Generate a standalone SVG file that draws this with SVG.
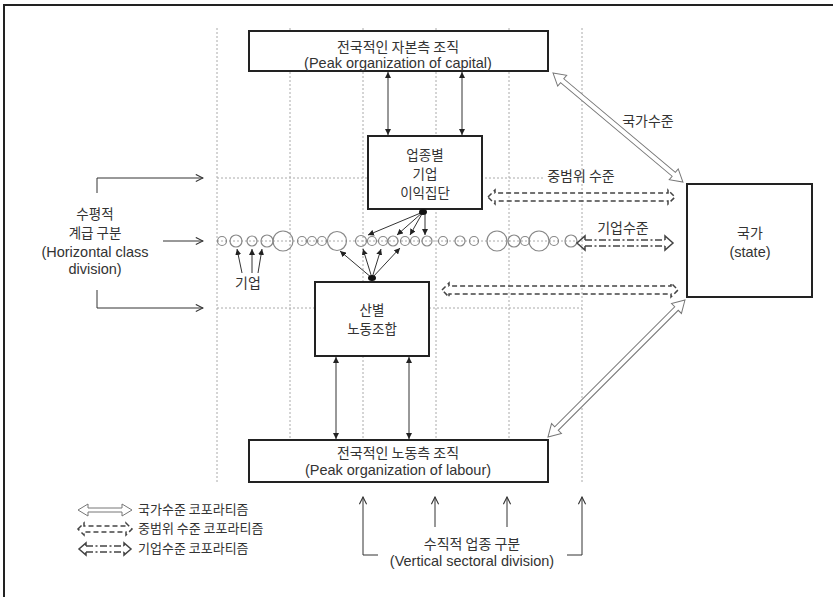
<svg xmlns="http://www.w3.org/2000/svg" width="833" height="597" viewBox="0 0 833 597">
<defs>
<style>
.box{fill:#fff;stroke:#222;stroke-width:2}
.grid{stroke:#aaa;stroke-width:1;stroke-dasharray:2,2;fill:none}
.t{font-family:"Liberation Sans","Noto Sans CJK KR",sans-serif;fill:#333;text-anchor:middle;font-size:14.5px}
.k{font-family:"Noto Sans CJK KR","Liberation Sans",sans-serif;font-size:14px}
.s{font-size:13.5px}
.lg{font-family:"Noto Sans CJK KR","Liberation Sans",sans-serif;font-size:13px;fill:#333;text-anchor:start}
.circ{fill:none;stroke:#888;stroke-width:1.2}
.ln{stroke:#333;stroke-width:1;fill:none}
.hol{fill:#fff;stroke:#777;stroke-width:1}
.dsh{fill:none;stroke:#444;stroke-width:1.5;stroke-dasharray:5,3}
.dd{fill:none;stroke:#444;stroke-width:1.5;stroke-dasharray:7,2.5,2,2.5}
.hd{fill:none;stroke:#444;stroke-width:1.5}
</style>
<marker id="ah" viewBox="0 0 8 8" refX="8" refY="4" markerWidth="6" markerHeight="6" orient="auto-start-reverse"><path d="M0,0 L8,4 L0,8 z" fill="#222"/></marker>
<marker id="oa" viewBox="0 0 10 10" refX="9" refY="5" markerWidth="9" markerHeight="9" orient="auto"><path d="M1,1 L9,5 L1,9" fill="none" stroke="#333" stroke-width="1.2"/></marker>
</defs>
<rect width="833" height="597" fill="#fff"/>
<path d="M3,5 H833 M4,4 V597" stroke="#222" stroke-width="2" fill="none"/>

<g id="grid">
<path class="grid" d="M217,28 V482 M290,28 V482 M363,28 V482 M436,28 V482 M509,28 V482 M582,28 V484"/>
<path class="grid" d="M217,178 H545 M217,241 H577 M217,308 H582"/>
</g>

<g id="firms">
<g class="circ">
<circle cx="222" cy="241" r="4.5"/><circle cx="236" cy="241" r="6"/><circle cx="252" cy="241" r="5"/><circle cx="267" cy="241" r="6"/><circle cx="283" cy="241" r="10"/><circle cx="302" cy="241" r="4.5"/><circle cx="312" cy="241" r="4.5"/><circle cx="322" cy="241" r="4.5"/><circle cx="337" cy="241" r="9.5"/><circle cx="361" cy="241" r="5.5"/><circle cx="372" cy="241" r="4.5"/><circle cx="383" cy="241" r="4.5"/><circle cx="393" cy="241" r="5"/><circle cx="405" cy="241" r="4.5"/><circle cx="415" cy="241" r="4.5"/><circle cx="427" cy="241" r="5"/><circle cx="443" cy="241" r="4.5"/><circle cx="460" cy="241" r="5"/><circle cx="474" cy="241" r="4.5"/><circle cx="497" cy="241" r="10"/><circle cx="514" cy="241" r="6"/><circle cx="525" cy="241" r="4.5"/><circle cx="539" cy="241" r="10"/><circle cx="554" cy="241" r="4.5"/><circle cx="571" cy="241" r="6"/>
</g>
<text class="t k" x="248" y="288">기업</text>
</g>

<g id="capital">
<rect class="box" x="249" y="31" width="299" height="40"/>
<text class="t k" x="398" y="52">전국적인 자본측 조직</text>
<text class="t" x="398" y="68">(Peak organization of capital)</text>
</g>

<g id="business">
<rect class="box" x="368" y="136" width="114" height="73"/>
<text class="t k s" x="425" y="160">업종별</text>
<text class="t k s" x="425" y="179">기업</text>
<text class="t k s" x="425" y="198">이익집단</text>
</g>

<g id="union">
<rect class="box" x="315" y="282" width="114" height="74"/>
<text class="t k s" x="372" y="315">산별</text>
<text class="t k s" x="372" y="334">노동조합</text>
</g>

<g id="labour">
<rect class="box" x="249" y="440" width="299" height="42"/>
<text class="t k" x="398" y="458">전국적인 노동측 조직</text>
<text class="t" x="398" y="475">(Peak organization of labour)</text>
</g>

<g id="state">
<rect class="box" x="687" y="184" width="125" height="113"/>
<text class="t k" x="750" y="238">국가</text>
<text class="t" x="750" y="257">(state)</text>
</g>

<g id="horizontal">
<text class="t k s" x="95" y="219">수평적</text>
<text class="t k s" x="95" y="238">계급 구분</text>
<text class="t" x="95" y="257">(Horizontal class</text>
<text class="t" x="95" y="274">division)</text>
</g>

<g id="vertical">
<text class="t k" x="472" y="549">수직적 업종 구분</text>
<text class="t" x="472" y="566">(Vertical sectoral division)</text>
</g>

<g id="connectors">
<g class="ln" marker-end="url(#oa)">
<path d="M97,193 V178 H203"/>
<path d="M163,241 H203"/>
<path d="M97,290 V308 H203"/>
<path d="M378,555 H363 V497"/>
<path d="M435,527 V497"/>
<path d="M507,527 V497"/>
<path d="M567,555 H582 V497"/>
</g>
<g class="ln" marker-start="url(#ah)" marker-end="url(#ah)">
<path d="M388,72 V135"/>
<path d="M462,72 V135"/>
<path d="M336,357 V439"/>
<path d="M409,357 V439"/>
</g>
<g class="ln" marker-end="url(#ah)">
<path d="M423,212 L368,235"/>
<path d="M423,212 L397,235"/>
<path d="M423,212 L410,235"/>
<path d="M425,213 L425,235"/>
<path d="M372,278 L340,251"/>
<path d="M372,278 L363,249"/>
<path d="M372,278 L381,249"/>
<path d="M372,278 L400,248"/>
<path d="M242,273 L237,249"/>
<path d="M252,273 L252,249"/>
<path d="M258,273 L262,249"/>
</g>
<ellipse cx="423" cy="212" rx="4" ry="3" fill="#111"/>
<ellipse cx="372" cy="278" rx="4" ry="3" fill="#111"/>

<g transform="translate(553,73) rotate(40)">
<path class="hol" d="M0,0 L12,-7 L12,-2.5 L157.6,-2.5 L157.6,-7 L169.6,0 L157.6,7 L157.6,2.5 L12,2.5 L12,7 Z"/>
</g>
<g transform="translate(548,437) rotate(-45)">
<path class="hol" d="M0,0 L12,-7 L12,-2.5 L181.7,-2.5 L181.7,-7 L193.7,0 L181.7,7 L181.7,2.5 L12,2.5 L12,7 Z"/>
</g>
<text class="t k" x="648" y="126">국가수준</text>

<path class="dsh" d="M488,197 L495,190 L495,193 L668,193 L668,190 L675,197 L668,204 L668,201 L495,201 L495,204 Z"/>
<text class="t k" x="581" y="181">중범위 수준</text>
<path class="dsh" d="M442,290 L449,283 L449,286 L671,286 L671,283 L678,290 L671,297 L671,294 L449,294 L449,297 Z"/>

<path class="hd" d="M585,240 L585,236 L577,243 L585,250 L585,246 M665,240 L665,236 L673,243 L665,250 L665,246"/>
<path class="dd" d="M585,240 H665 M585,246 H665"/>
<text class="t k" x="623" y="233">기업수준</text>
</g>

<g id="legend">
<path class="hol" d="M78,510 L88,504 L88,508 L122,508 L122,504 L132,510 L122,516 L122,512 L88,512 L88,516 Z"/>
<text class="lg" x="138" y="514">국가수준 코포라티즘</text>
<path class="dsh" d="M78,529 L84,523 L84,526 L126,526 L126,523 L132,529 L126,535 L126,532 L84,532 L84,535 Z"/>
<text class="lg" x="138" y="533">중범위 수준 코포라티즘</text>
<path class="hd" d="M86,546 L86,543 L79,549 L86,555 L86,552 M124,546 L124,543 L131,549 L124,555 L124,552"/>
<path class="dd" d="M86,546 H124 M86,552 H124"/>
<text class="lg" x="138" y="553">기업수준 코포라티즘</text>
</g>
</svg>
